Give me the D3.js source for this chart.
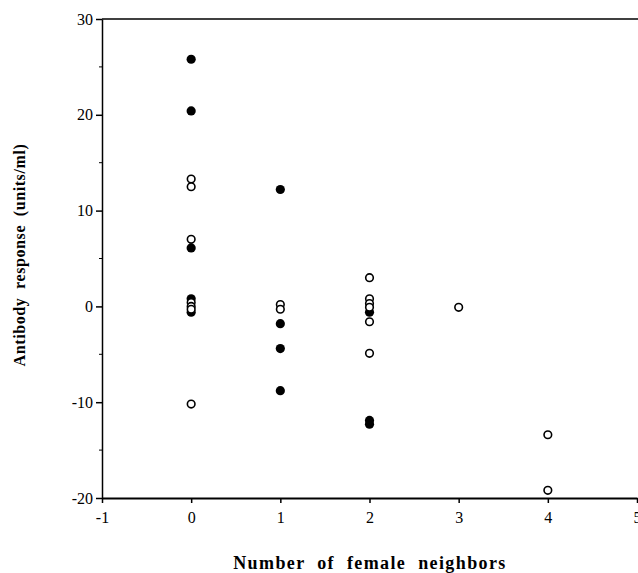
<!DOCTYPE html>
<html>
<head>
<meta charset="utf-8">
<script src="https://cdn.jsdelivr.net/npm/d3@7"></script>
<style>
  body { margin: 0; background: #fff; }
  svg { display: block; }
</style>
</head>
<body>
<div id="chart"></div>
<script>
// filled circles
const filledX = [0, 0, 0, 0, 0, 1, 1, 1, 1, 2, 2, 2];
const filledY = [25.8, 20.4, 6.1, 0.8, -0.6, 12.2, -1.8, -4.4, -8.8, -0.6, -11.9, -12.3];
// open circles
const openX = [0, 0, 0, 0, 0, 0, 0, 1, 1, 2, 2, 2, 2, 2, 2, 3, 4, 4];
const openY = [13.3, 12.5, 7.0, 0.4, 0.0, -0.3, -10.2, 0.2, -0.3, 3.0, 0.8, 0.3, -0.1, -1.6, -4.9, -0.1, -13.4, -19.2];

const xTicks = [-1, 0, 1, 2, 3, 4, 5];
const yTicks = [-20, -10, 0, 10, 20, 30];
const yMinor = [-15, -5, 5, 15, 25];

const width = 638, height = 573;
const x = d3.scaleLinear().domain([-1, 5]).range([102, 637]);
const y = d3.scaleLinear().domain([-20, 30]).range([498, 19]);

const svg = d3.select("#chart").append("svg")
    .attr("width", width)
    .attr("height", height)
    .attr("font-family", "'Liberation Serif', 'Times New Roman', serif");

// top frame line
svg.append("line")
    .attr("x1", x(-1)).attr("x2", width)
    .attr("y1", y(30)).attr("y2", y(30))
    .attr("stroke", "#000").attr("stroke-width", 1.5);

// y axis
const yAxis = svg.append("g")
    .attr("transform", `translate(${x(-1)},0)`)
    .call(d3.axisLeft(y).tickValues(yTicks).tickFormat(d => String(d))
      .tickSize(6).tickSizeOuter(0).tickPadding(3))
    .attr("font-family", null)
    .attr("font-size", 16);
yAxis.select(".domain").attr("stroke-width", 1.5);
yAxis.selectAll("line").attr("stroke-width", 1.5);

svg.append("g")
  .selectAll("line")
  .data(yMinor)
  .join("line")
    .attr("x1", x(-1) - 3).attr("x2", x(-1))
    .attr("y1", d => y(d)).attr("y2", d => y(d))
    .attr("stroke", "#000").attr("stroke-width", 1);

// x axis
const xAxis = svg.append("g")
    .attr("transform", `translate(0,${y(-20)})`)
    .call(d3.axisBottom(x).tickValues(xTicks).tickFormat(d => String(d))
      .tickSize(5).tickSizeOuter(0).tickPadding(9))
    .attr("font-family", null)
    .attr("font-size", 16);
xAxis.select(".domain").attr("stroke-width", 2);
xAxis.selectAll("line").attr("stroke-width", 1.5);

// points
svg.append("g")
  .selectAll("circle")
  .data(filledX.map((d, i) => [d, filledY[i]]))
  .join("circle")
    .attr("cx", d => x(d[0]))
    .attr("cy", d => y(d[1]))
    .attr("r", 4.6)
    .attr("fill", "#000");

svg.append("g")
  .selectAll("circle")
  .data(openX.map((d, i) => [d, openY[i]]))
  .join("circle")
    .attr("cx", d => x(d[0]))
    .attr("cy", d => y(d[1]))
    .attr("r", 3.8)
    .attr("fill", "#fff")
    .attr("stroke", "#000")
    .attr("stroke-width", 1.6);

// axis titles
svg.append("text")
    .attr("transform", `translate(25,255) rotate(-90)`)
    .attr("text-anchor", "middle")
    .attr("font-weight", "bold")
    .attr("font-size", 16)
    .attr("letter-spacing", 0.6)
    .attr("word-spacing", 4)
    .text("Antibody response (units/ml)");

svg.append("text")
    .attr("x", 370)
    .attr("y", 569)
    .attr("text-anchor", "middle")
    .attr("font-weight", "bold")
    .attr("font-size", 18)
    .attr("letter-spacing", 1.4)
    .attr("word-spacing", 6)
    .text("Number of female neighbors");
</script>
</body>
</html>
